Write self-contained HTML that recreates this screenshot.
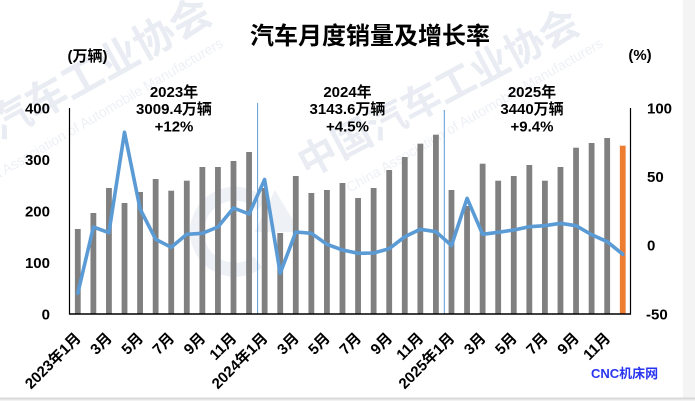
<!DOCTYPE html>
<html>
<head>
<meta charset="utf-8">
<style>
  html, body { margin: 0; padding: 0; background: #ffffff; }
  body { width: 695px; height: 401px; overflow: hidden; }
  svg { display: block; }
  .t { font-family: "Liberation Sans", "Noto Sans CJK SC", sans-serif; font-weight: bold; fill: #000; }
</style>
</head>
<body>
<svg width="695" height="401" viewBox="0 0 695 401" xmlns="http://www.w3.org/2000/svg">
  <rect x="0" y="0" width="695" height="401" fill="#ffffff"/>
  <!-- right gray strip and bottom line -->
  <rect x="683" y="0" width="12" height="401" fill="#f4f4f4"/>
  <rect x="0" y="397.5" width="695" height="2" fill="#d9d9d9"/>
  <rect x="0" y="399.5" width="695" height="1.5" fill="#f2f2f2"/>

  <!-- watermark -->
  <g font-family="Liberation Sans, Noto Sans CJK SC, sans-serif" font-weight="bold">
    <text x="-72" y="180" font-size="41" fill="#e9edf3" transform="rotate(-29 -72 180)">中国汽车工业协会</text>
    <text x="307" y="178" font-size="39" fill="#e9edf3" transform="rotate(-28 307 178)">中国汽车工业协会</text>
  </g>
  <g font-family="Liberation Sans, sans-serif" font-size="14" fill="#edf0f5" text-anchor="end">
    <text x="224" y="46" transform="rotate(-30.5 224 46)">China Association of Automobile Manufacturers</text>
    <text x="604" y="46" transform="rotate(-30 604 46)">China Association of Automobile Manufacturers</text>
  </g>
  <path d="M 262 205 A 38 38 0 1 0 258 262" fill="none" stroke="#eef1f6" stroke-width="14"/>
  <path d="M 255 232 L 275 190 L 300 232 Z" fill="#eef1f6"/>

  <!-- title -->
  <text class="t" x="370" y="44" font-size="24" text-anchor="middle">汽车月度销量及增长率</text>
  <text class="t" x="87.5" y="61" font-size="15" text-anchor="middle">(万辆)</text>
  <text class="t" x="640" y="60" font-size="15" text-anchor="middle">(%)</text>

  <!-- year annotations -->
  <g class="t" font-size="15" text-anchor="middle">
    <text x="174" y="97">2023年</text>
    <text x="174" y="114">3009.4万辆</text>
    <text x="174" y="131.5">+12%</text>
    <text x="347.5" y="97">2024年</text>
    <text x="347.5" y="114">3143.6万辆</text>
    <text x="347.5" y="131.5">+4.5%</text>
    <text x="532" y="97">2025年</text>
    <text x="532" y="114">3440万辆</text>
    <text x="532" y="131.5">+9.4%</text>
  </g>

  <!-- bars -->
  <g fill="#808080">
    <rect x="74.9" y="229" width="5.8" height="85"/>
    <rect x="90.47" y="213" width="5.8" height="101"/>
    <rect x="106.04" y="188" width="5.8" height="126"/>
    <rect x="121.61" y="203" width="5.8" height="111"/>
    <rect x="137.18" y="192" width="5.8" height="122"/>
    <rect x="152.75" y="179" width="5.8" height="135"/>
    <rect x="168.32" y="190.7" width="5.8" height="123.3"/>
    <rect x="183.89" y="180.7" width="5.8" height="133.3"/>
    <rect x="199.46" y="167" width="5.8" height="147"/>
    <rect x="215.03" y="167" width="5.8" height="147"/>
    <rect x="230.6" y="161" width="5.8" height="153"/>
    <rect x="246.17" y="152" width="5.8" height="162"/>
    <rect x="261.74" y="188" width="5.8" height="126"/>
    <rect x="277.31" y="233" width="5.8" height="81"/>
    <rect x="292.88" y="176" width="5.8" height="138"/>
    <rect x="308.45" y="193" width="5.8" height="121"/>
    <rect x="324.02" y="190" width="5.8" height="124"/>
    <rect x="339.59" y="183" width="5.8" height="131"/>
    <rect x="355.16" y="198" width="5.8" height="116"/>
    <rect x="370.73" y="188" width="5.8" height="126"/>
    <rect x="386.3" y="170" width="5.8" height="144"/>
    <rect x="401.87" y="157" width="5.8" height="157"/>
    <rect x="417.44" y="143.7" width="5.8" height="170.3"/>
    <rect x="433.01" y="134.7" width="5.8" height="179.3"/>
    <rect x="448.58" y="190" width="5.8" height="124"/>
    <rect x="464.15" y="206" width="5.8" height="108"/>
    <rect x="479.72" y="163.7" width="5.8" height="150.3"/>
    <rect x="495.29" y="180.7" width="5.8" height="133.3"/>
    <rect x="510.86" y="176" width="5.8" height="138"/>
    <rect x="526.43" y="165" width="5.8" height="149"/>
    <rect x="542" y="180.7" width="5.8" height="133.3"/>
    <rect x="557.57" y="167" width="5.8" height="147"/>
    <rect x="573.14" y="147.7" width="5.8" height="166.3"/>
    <rect x="588.71" y="143" width="5.8" height="171"/>
    <rect x="604.28" y="138" width="5.8" height="176"/>
  </g>
  <rect x="619.85" y="145.7" width="5.8" height="168.3" fill="#ed7d31"/>

  <!-- year dividers -->
  <line x1="257.6" y1="103" x2="257.6" y2="314" stroke="#5b9bd5" stroke-width="1"/>
  <line x1="444.3" y1="110" x2="444.3" y2="314" stroke="#5b9bd5" stroke-width="1"/>

  <!-- growth line -->
  <polyline fill="none" stroke="#5b9bd5" stroke-width="3.6" stroke-linejoin="round" stroke-linecap="round"
    points="77.8,293.3 93.4,227 108.9,232.7 124.5,132.3 140.1,209 155.7,239.3 171.2,247.3 186.8,234.3 202.4,233.3 217.9,227 233.5,208 249.1,214 264.6,179.5 280.2,273.3 295.8,232 311.4,233.3 326.9,244.3 342.5,250 358.1,253.3 373.6,253 389.2,248.7 404.8,236.7 420.3,229.3 435.9,231.7 451.5,245.5 467.1,198.3 482.6,234.3 498.2,232.3 513.8,230 529.3,226.7 544.9,225.7 560.5,223.3 576,225.7 591.6,234.7 607.2,241.7 622.8,254.3"/>

  <!-- axes -->
  <line x1="69.5" y1="108" x2="69.5" y2="314.5" stroke="#000" stroke-width="1.2"/>
  <line x1="630.5" y1="108" x2="630.5" y2="314.5" stroke="#000" stroke-width="1.2"/>
  <line x1="69" y1="314" x2="631" y2="314" stroke="#000" stroke-width="1.4"/>

  <!-- left axis labels -->
  <g class="t" font-size="15" text-anchor="end">
    <text x="50" y="113.5">400</text>
    <text x="50" y="165">300</text>
    <text x="50" y="216.5">200</text>
    <text x="50" y="268">100</text>
    <text x="50" y="319.5">0</text>
  </g>
  <!-- right axis labels -->
  <g class="t" font-size="15" text-anchor="start">
    <text x="647" y="113.5">100</text>
    <text x="647" y="182">50</text>
    <text x="647" y="250.5">0</text>
    <text x="646" y="319.5">-50</text>
  </g>

  <!-- x labels -->
  <g class="t" font-size="15" text-anchor="end">
    <text x="81.8" y="339" transform="rotate(-45 81.8 339)">2023年1月</text>
    <text x="112.9" y="339" transform="rotate(-45 112.9 339)">3月</text>
    <text x="144.1" y="339" transform="rotate(-45 144.1 339)">5月</text>
    <text x="175.2" y="339" transform="rotate(-45 175.2 339)">7月</text>
    <text x="206.4" y="339" transform="rotate(-45 206.4 339)">9月</text>
    <text x="237.5" y="339" transform="rotate(-45 237.5 339)">11月</text>
    <text x="268.6" y="339" transform="rotate(-45 268.6 339)">2024年1月</text>
    <text x="299.8" y="339" transform="rotate(-45 299.8 339)">3月</text>
    <text x="330.9" y="339" transform="rotate(-45 330.9 339)">5月</text>
    <text x="362.1" y="339" transform="rotate(-45 362.1 339)">7月</text>
    <text x="393.2" y="339" transform="rotate(-45 393.2 339)">9月</text>
    <text x="424.3" y="339" transform="rotate(-45 424.3 339)">11月</text>
    <text x="455.5" y="339" transform="rotate(-45 455.5 339)">2025年1月</text>
    <text x="486.6" y="339" transform="rotate(-45 486.6 339)">3月</text>
    <text x="517.8" y="339" transform="rotate(-45 517.8 339)">5月</text>
    <text x="548.9" y="339" transform="rotate(-45 548.9 339)">7月</text>
    <text x="580" y="339" transform="rotate(-45 580 339)">9月</text>
    <text x="611.2" y="339" transform="rotate(-45 611.2 339)">11月</text>
  </g>

  <!-- source -->
  <text x="591" y="378" font-family="Liberation Sans, Noto Sans CJK SC, sans-serif" font-weight="bold" font-size="13" fill="#2a35f0">CNC机床网</text>
</svg>
</body>
</html>
